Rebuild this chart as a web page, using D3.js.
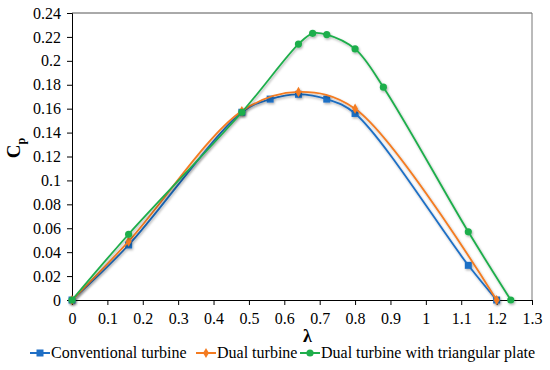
<!DOCTYPE html>
<html>
<head>
<meta charset="utf-8">
<script src="https://cdn.jsdelivr.net/npm/d3@7"></script>
</head>
<body style="margin:0; background:#fff">
<div id="chart"></div>
<script>
const W = 550, H = 370;

// data (lambda, Cp)
const convLambda = [0, 0.16, 0.48, 0.56, 0.64, 0.72, 0.8, 1.12, 1.2];
const convCp     = [0, 0.046, 0.157, 0.168, 0.172, 0.168, 0.156, 0.029, 0];
const dualLambda = [0, 0.16, 0.48, 0.64, 0.8, 1.2];
const dualCp     = [0, 0.049, 0.158, 0.174, 0.160, 0];
const plateLambda = [0, 0.16, 0.48, 0.64, 0.68, 0.72, 0.8, 0.88, 1.12, 1.24];
const plateCp     = [0, 0.055, 0.157, 0.214, 0.223, 0.222, 0.210, 0.178, 0.057, 0];

const xTicks = [0, 0.1, 0.2, 0.3, 0.4, 0.5, 0.6, 0.7, 0.8, 0.9, 1, 1.1, 1.2, 1.3];
const yTicks = [0, 0.02, 0.04, 0.06, 0.08, 0.1, 0.12, 0.14, 0.16, 0.18, 0.2, 0.22, 0.24];

const series = [
  { name: "Conventional turbine", color: "#1f6fc5", shape: "square", xs: convLambda, ys: convCp },
  { name: "Dual turbine", color: "#f47b20", shape: "diamond", xs: dualLambda, ys: dualCp },
  { name: "Dual turbine with triangular plate", color: "#1fae4b", shape: "circle", xs: plateLambda, ys: plateCp }
];

const margin = { left: 72, right: 18, top: 13, bottom: 70 };
const serif = '"Liberation Serif"';

const svg = d3.select("#chart").append("svg")
  .attr("width", W).attr("height", H);

const defs = svg.append("defs");
const f = defs.append("filter").attr("id", "shadow")
  .attr("x", "-10%").attr("y", "-10%").attr("width", "130%").attr("height", "130%");
f.append("feDropShadow").attr("dx", 1).attr("dy", 1.5).attr("stdDeviation", 0.8)
  .attr("flood-color", "#000").attr("flood-opacity", 0.3);

const x = d3.scaleLinear().domain([0, 1.3]).range([margin.left, W - margin.right]);
const y = d3.scaleLinear().domain([0, 0.24]).range([H - margin.bottom, margin.top]);

// plot frame (top/right)
svg.append("line")
  .attr("x1", x(0)).attr("x2", x(1.3)).attr("y1", y(0.24)).attr("y2", y(0.24))
  .attr("stroke", "#555").attr("stroke-width", 1);
svg.append("line")
  .attr("x1", x(1.3)).attr("x2", x(1.3)).attr("y1", y(0.24)).attr("y2", y(0))
  .attr("stroke", "#777").attr("stroke-width", 1);

// axes
const xAxis = svg.append("g")
  .attr("transform", `translate(0,${y(0)})`)
  .call(d3.axisBottom(x).tickValues(xTicks).tickSize(5).tickPadding(8)
    .tickFormat(d => d3.format("")(+d.toFixed(1))));
const yAxis = svg.append("g")
  .attr("transform", `translate(${x(0)},0)`)
  .call(d3.axisLeft(y).tickValues(yTicks).tickSize(5).tickPadding(6)
    .tickFormat(d => d3.format("")(+d.toFixed(2))));

[xAxis, yAxis].forEach(g => {
  g.select(".domain").attr("stroke", "#000");
  g.selectAll(".tick line").attr("stroke", "#000");
  g.selectAll(".tick text").attr("font-size", 16).attr("fill", "#000");
});

// axis titles
svg.append("text")
  .attr("transform", `translate(20,148) rotate(-90)`)
  .attr("text-anchor", "middle")
  .attr("font-size", 19).attr("font-weight", "bold")
  .html('C<tspan font-size="12" dy="5">p</tspan>');

svg.append("text")
  .attr("x", x(0.665)).attr("y", 342)
  .attr("text-anchor", "middle")
  .attr("font-size", 18).attr("font-weight", "bold")
  .text("λ");

const line = d3.line()
  .x(d => x(d[0])).y(d => y(d[1]))
  .curve(d3.curveCatmullRom.alpha(0.5));

function marker(g, shape, color, cx, cy) {
  if (shape === "square") {
    g.append("rect").attr("x", cx - 3.5).attr("y", cy - 3.5)
      .attr("width", 7).attr("height", 7).attr("fill", color);
  } else if (shape === "diamond") {
    g.append("path")
      .attr("d", d3.symbol().type(d3.symbolDiamond).size(30)())
      .attr("transform", `translate(${cx},${cy})`).attr("fill", color);
  } else {
    g.append("circle").attr("cx", cx).attr("cy", cy).attr("r", 3.6).attr("fill", color);
  }
}

series.forEach(s => {
  const pts = s.xs.map((v, i) => [v, s.ys[i]]);
  const g = svg.append("g").attr("filter", "url(#shadow)");
  g.append("path").datum(pts)
    .attr("d", line)
    .attr("fill", "none")
    .attr("stroke", s.color)
    .attr("stroke-width", 1.8);
  pts.forEach(p => marker(g, s.shape, s.color, x(p[0]), y(p[1])));
});

// legend
const legendX = [30, 196, 300];
series.forEach((s, i) => {
  const g = svg.append("g").attr("transform", `translate(${legendX[i]},353)`);
  g.append("line").attr("x1", 0).attr("x2", 20).attr("y1", 0).attr("y2", 0)
    .attr("stroke", s.color).attr("stroke-width", 2);
  marker(g, s.shape, s.color, 10, 0);
  g.append("text").attr("x", 21).attr("y", 5)
    .attr("font-size", 16).attr("fill", "#000")
    .text(s.name);
});

// serif everywhere
svg.selectAll("text").style("font-family", serif);
</script>
</body>
</html>
